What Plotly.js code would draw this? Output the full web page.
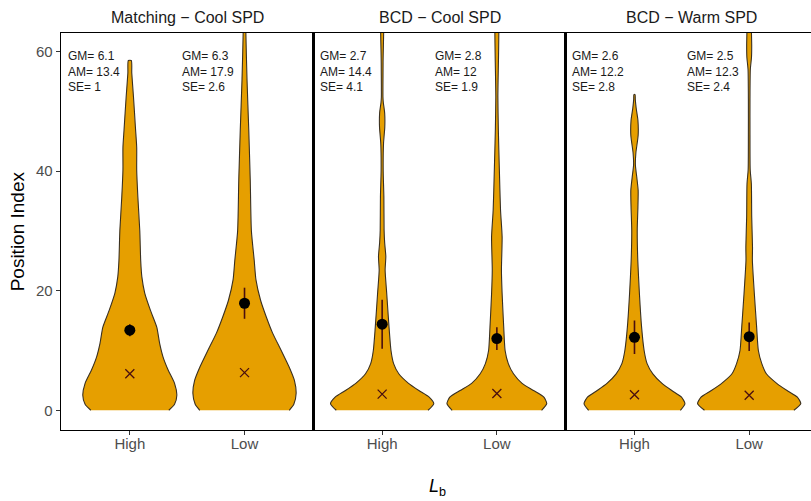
<!DOCTYPE html>
<html>
<head>
<meta charset="utf-8">
<script src="https://cdn.plot.ly/plotly-3.0.1.min.js"></script>
<style>
html,body{margin:0;padding:0;overflow:hidden;background:#fff;}
#chart{width:820px;height:501px;}
</style>
</head>
<body>
<div id="chart"></div>
<script>
// ---- data ----
const categories = ['High', 'Low'];
const panelTitles = ['Matching \u2212 Cool SPD', 'BCD \u2212 Cool SPD', 'BCD \u2212 Warm SPD'];
const yTicks = [0, 20, 40, 60];

// geometric mean, arithmetic mean, standard error per panel [High, Low]
const gmValues = [[6.1, 6.3], [2.7, 2.8], [2.6, 2.5]];
const amValues = [[13.4, 17.9], [14.4, 12], [12.2, 12.3]];
const seValues = [[1, 2.6], [4.1, 1.9], [2.8, 2.4]];
const gmLabels = [['6.1', '6.3'], ['2.7', '2.8'], ['2.6', '2.5']];
const amLabels = [['13.4', '17.9'], ['14.4', '12'], ['12.2', '12.3']];
const seLabels = [['1', '2.6'], ['4.1', '1.9'], ['2.8', '2.4']];

// violin density profiles (value levels and half-widths in category units)
const matchHighY = [0, 1, 2.5, 4.5, 6.7, 8.9, 11.2, 13.9, 16.7, 19.6, 22.3, 25, 30, 35.7, 40.2, 44, 47, 52.4, 56.4, 58.5];
const matchHighW = [0.34, 0.39, 0.41, 0.39, 0.335, 0.29, 0.26, 0.235, 0.18, 0.13, 0.105, 0.095, 0.087, 0.07, 0.06, 0.06, 0.05, 0.032, 0.017, 0.013];
const matchLowY = [0, 1, 2.8, 5, 7.2, 10, 12.9, 15.6, 18.4, 21.8, 25, 30, 38.5, 46.9, 55.2, 63, 70];
const matchLowW = [0.39, 0.43, 0.45, 0.435, 0.39, 0.32, 0.245, 0.19, 0.14, 0.10, 0.085, 0.06, 0.05, 0.037, 0.022, 0.012, 0.01];
const coolHighY = [0, 1.1, 2.2, 3.3, 4.5, 6.1, 7.8, 10, 13.9, 19.5, 23.4, 25.7, 28, 30.1, 35.7, 40.2, 44.6, 47.4, 49.7, 51.5, 52.4, 58, 70];
const coolHighW = [0.40, 0.45, 0.41, 0.32, 0.23, 0.145, 0.10, 0.077, 0.06, 0.04, 0.026, 0.032, 0.022, 0.017, 0.015, 0.009, 0.012, 0.023, 0.022, 0.01, 0.007, 0.008, 0.008];
const coolLowY = [0, 1.1, 2.2, 3.3, 4.5, 6.1, 7.8, 10, 13.9, 19.5, 23.4, 29, 33.5, 40.2, 46.9, 52.4, 70];
const coolLowW = [0.39, 0.435, 0.41, 0.32, 0.22, 0.145, 0.10, 0.072, 0.06, 0.046, 0.04, 0.046, 0.032, 0.022, 0.013, 0.009, 0.009];
const warmHighY = [0, 1.1, 2.2, 3.3, 4.5, 6.1, 7.8, 10, 13.9, 19.5, 25, 30.1, 34, 36.8, 39, 41, 43, 46, 48.5, 50.5, 52, 52.8];
const warmHighW = [0.40, 0.44, 0.41, 0.325, 0.24, 0.16, 0.11, 0.084, 0.062, 0.043, 0.029, 0.024, 0.03, 0.032, 0.02, 0.008, 0.012, 0.032, 0.03, 0.015, 0.007, 0.005];
const warmLowY = [0, 1.1, 2.2, 3.3, 4.5, 6.1, 7.8, 10, 13.9, 19.5, 25, 27.3, 32.4, 37.9, 40.2, 46, 52, 57, 59, 61, 63, 70];
const warmLowW = [0.39, 0.45, 0.42, 0.33, 0.24, 0.15, 0.11, 0.08, 0.065, 0.045, 0.028, 0.029, 0.022, 0.019, 0.009, 0.007, 0.007, 0.01, 0.02, 0.022, 0.02, 0.015];

const profiles = [
  [[matchHighY, matchHighW], [matchLowY, matchLowW]],
  [[coolHighY, coolHighW], [coolLowY, coolLowW]],
  [[warmHighY, warmHighW], [warmLowY, warmLowW]]
];

// ---- build ----
const FILL = '#E69F00';
const OUTLINE = '#3a3020';
const DARK = '#4a0f0f';
const traces = [];
const annotations = [];
const layout = {
  width: 820, height: 501,
  margin: {l: 61, r: 2, t: 33, b: 71},
  paper_bgcolor: '#fff', plot_bgcolor: '#fff',
  showlegend: false,
  font: {family: 'Liberation Sans, Arial, sans-serif', color: '#1a1a1a'},
  annotations: annotations
};

for (let p = 0; p < 3; p++) {
  const xa = p === 0 ? 'x' : 'x' + (p + 1);
  const ya = p === 0 ? 'y' : 'y' + (p + 1);
  for (let c = 0; c < 2; c++) {
    const center = c + 1;
    const [ys, ws] = profiles[p][c];
    const px = [], py = [];
    for (let i = 0; i < ys.length; i++) { px.push(center + ws[i]); py.push(ys[i]); }
    for (let i = ys.length - 1; i >= 0; i--) { px.push(center - ws[i]); py.push(ys[i]); }
    traces.push({
      type: 'scatter', mode: 'lines', x: px, y: py, xaxis: xa, yaxis: ya,
      fill: 'toself', fillcolor: FILL,
      line: {color: OUTLINE, width: 1.1, shape: 'spline', smoothing: 0.6},
      hoverinfo: 'skip'
    });
    annotations.push({
      xref: xa, yref: ya, x: center - 0.56, y: 60.8,
      xanchor: 'left', yanchor: 'top', align: 'left', showarrow: false,
      text: 'GM= ' + gmLabels[p][c] + '<br>AM= ' + amLabels[p][c] + '<br>SE= ' + seLabels[p][c],
      font: {size: 12, color: '#1a1a1a'}
    });
  }
  // geometric mean marker
  traces.push({
    type: 'scatter', mode: 'markers', x: [1, 2], y: gmValues[p], xaxis: xa, yaxis: ya,
    marker: {symbol: 'x-thin-open', size: 9, line: {color: DARK, width: 1.3}, color: DARK},
    hoverinfo: 'y'
  });
  // arithmetic mean with SE
  traces.push({
    type: 'scatter', mode: 'markers', x: [1, 2], y: amValues[p], xaxis: xa, yaxis: ya,
    marker: {symbol: 'circle', size: 11, color: '#000'},
    error_y: {type: 'data', array: seValues[p], visible: true, color: DARK, thickness: 1.6, width: 0},
    hoverinfo: 'y'
  });

  const xkey = p === 0 ? 'xaxis' : 'xaxis' + (p + 1);
  const ykey = p === 0 ? 'yaxis' : 'yaxis' + (p + 1);
  layout[xkey] = {
    domain: [p / 3, (p + 1) / 3], anchor: ya, range: [0.4, 2.6],
    tickvals: [1, 2], ticktext: categories, ticks: 'outside', ticklen: 4, tickwidth: 1, tickcolor: '#333',
    ticklabelstandoff: -4,
    tickfont: {size: 15, color: '#4d4d4d'},
    showline: true, mirror: true, linecolor: '#000', linewidth: 1.3,
    showgrid: false, zeroline: false, fixedrange: true
  };
  layout[ykey] = {
    anchor: xa, range: [-3.3, 63.1],
    tickvals: yTicks, ticktext: yTicks.map(String),
    ticks: p === 0 ? 'outside' : '', ticklen: 4, tickwidth: 1, tickcolor: '#333',
    showticklabels: p === 0,
    tickfont: {size: 15, color: '#4d4d4d'},
    showline: true, mirror: true, linecolor: '#000', linewidth: 1.3,
    showgrid: false, zeroline: false, fixedrange: true
  };
  annotations.push({
    xref: 'paper', yref: 'paper', x: (p + 0.5) / 3, y: 1.038,
    xanchor: 'center', yanchor: 'middle', showarrow: false,
    text: panelTitles[p], font: {size: 16, color: '#1a1a1a'}
  });
}

annotations.push({
  xref: 'paper', yref: 'paper', x: -0.057, y: 0.5, xanchor: 'center', yanchor: 'middle',
  textangle: -90, showarrow: false, text: 'Position Index', font: {size: 19, color: '#000'}
});
annotations.push({
  xref: 'paper', yref: 'paper', x: 0.497, y: -0.146, xanchor: 'center', yanchor: 'middle',
  showarrow: false, text: '<i>L</i><sub>b</sub>', font: {size: 18, color: '#000'}
});

Plotly.newPlot('chart', traces, layout, {displayModeBar: false, staticPlot: true});
</script>
</body>
</html>
